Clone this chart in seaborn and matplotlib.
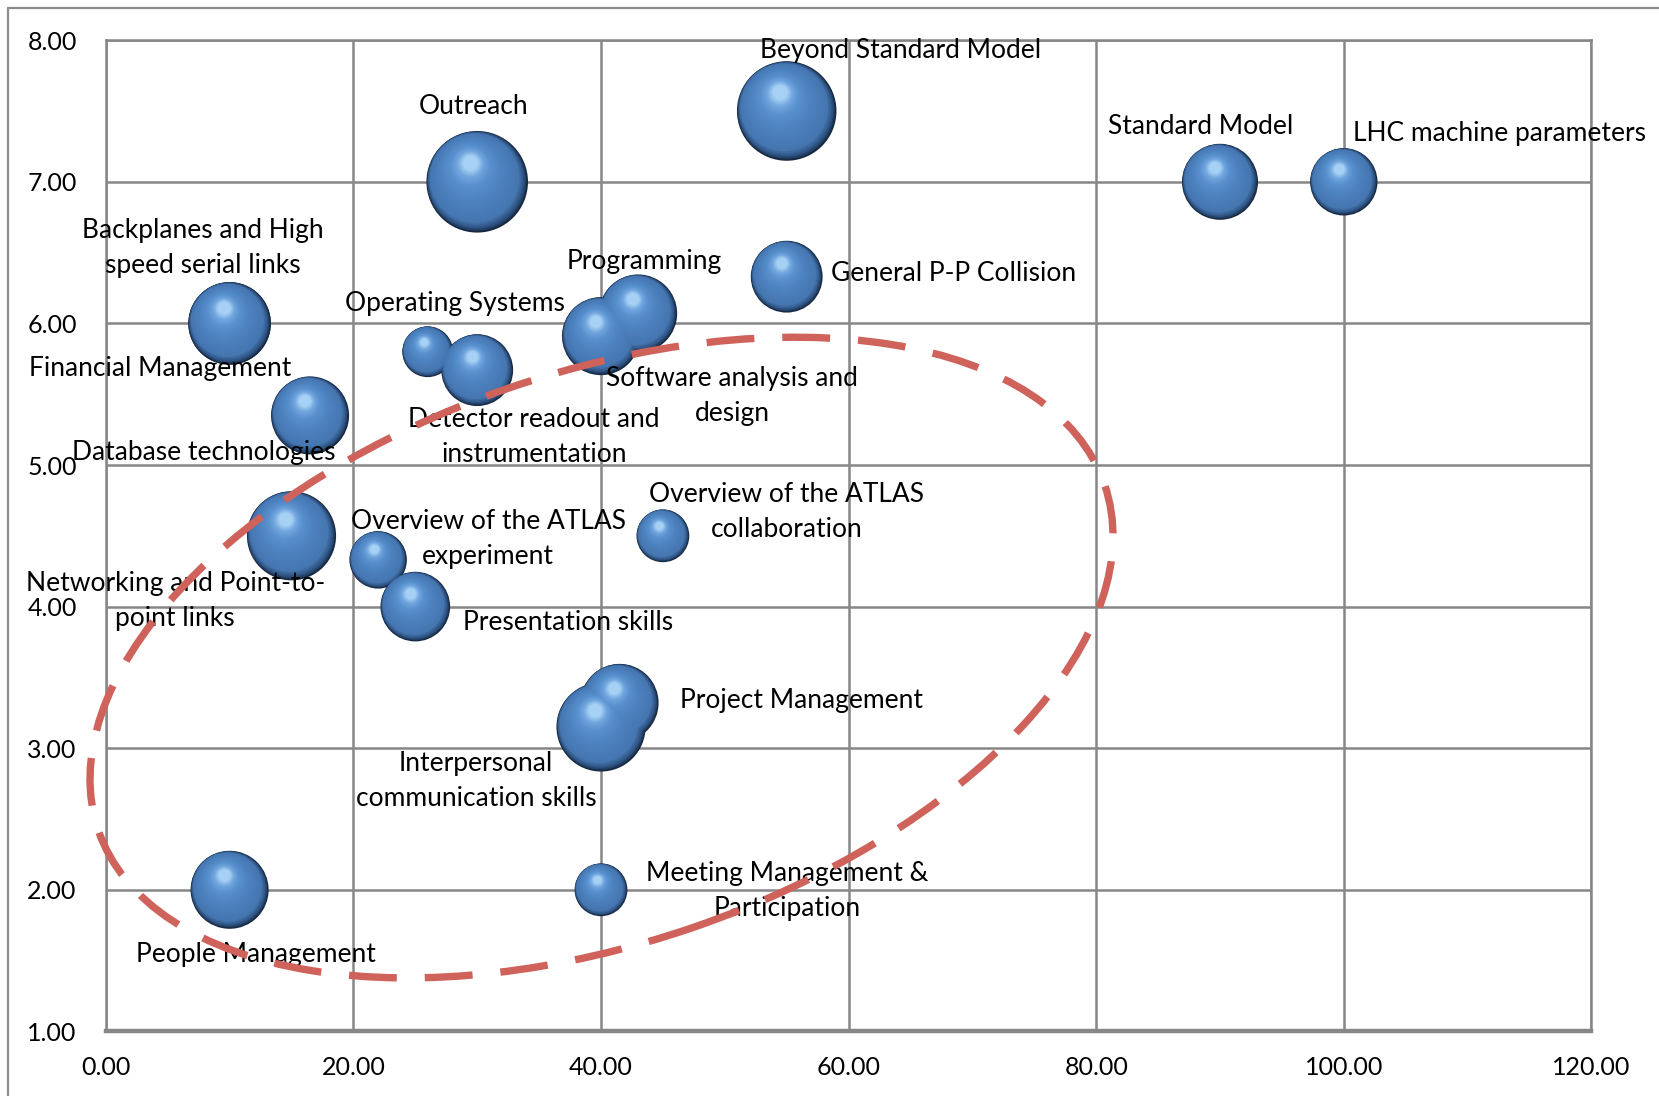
import numpy as np
import pandas as pd
import matplotlib
matplotlib.use("Agg")
import matplotlib.pyplot as plt
import seaborn as sns
from matplotlib.path import Path
from matplotlib.markers import MarkerStyle
from matplotlib.patches import Ellipse
from matplotlib.transforms import IdentityTransform
from matplotlib.lines import Line2D
from matplotlib.colors import to_rgb

# ---------------- data ----------------
topics = ["Beyond Standard Model", "Outreach", "Standard Model", "LHC machine parameters",
          "General P-P Collision", "Programming", "Software analysis and design",
          "Backplanes and High speed serial links", "Financial Management", "Operating Systems",
          "Detector readout and instrumentation", "Database technologies",
          "Networking and Point-to-point links", "Overview of the ATLAS experiment",
          "Presentation skills", "Overview of the ATLAS collaboration", "Project Management",
          "Interpersonal communication skills", "Meeting Management & Participation",
          "People Management"]
x_vals = [55, 30, 90, 100, 55, 43, 40, 10, 10, 26, 30, 16.5, 15, 22, 25, 45, 41.5, 40, 40, 10]
y_vals = [7.5, 7.0, 7.0, 7.0, 6.33, 6.07, 5.91, 6.0, 6.0, 5.8, 5.67, 5.35, 4.5, 4.33,
          4.0, 4.5, 3.32, 3.15, 2.0, 2.0]
bubble_size = [9.6, 10.0, 5.6, 4.4, 5.0, 5.9, 5.9, 6.6, 6.6, 2.5, 5.0, 5.9, 7.7, 3.2,
               4.7, 2.7, 5.9, 7.7, 2.7, 5.9]

x_ticks = [0, 20, 40, 60, 80, 100, 120]
y_ticks = [1, 2, 3, 4, 5, 6, 7, 8]

label_text = ["Beyond Standard Model", "Outreach", "Standard Model", "LHC machine parameters",
              "General P-P Collision", "Programming", "Software analysis and\ndesign",
              "Backplanes and High\nspeed serial links", "Financial Management",
              "Operating Systems", "Detector readout and\ninstrumentation",
              "Database technologies", "Networking and Point-to-\npoint links",
              "Overview of the ATLAS\nexperiment", "Presentation skills",
              "Overview of the ATLAS\ncollaboration", "Project Management",
              "Interpersonal\ncommunication skills", "Meeting Management &\nParticipation",
              "People Management"]
label_x = [64.2, 29.7, 88.4, 112.6, 68.5, 43.5, 50.6, 7.8, 4.4, 28.2, 34.6, 7.9, 5.6,
           30.9, 37.3, 55.0, 56.2, 29.9, 55.0, 12.1]
label_y = [7.925, 7.53, 7.39, 7.34, 6.35, 6.44, 5.49, 6.53, 5.68, 6.14, 5.20, 5.09, 4.04,
           4.48, 3.89, 4.67, 3.34, 2.77, 1.99, 1.54]

df = pd.DataFrame({"topic": topics, "x": x_vals, "y": y_vals, "size": bubble_size})

# ---------------- figure ----------------
sns.set_theme(style="white")
plt.rcParams["font.family"] = ["Lato", "DejaVu Sans"]

W, H, DPI = 1659, 1096, 100
fig = plt.figure(figsize=(W / DPI, H / DPI), dpi=DPI)
ax = fig.add_axes([105.8 / W, 1 - 1031.4 / H, (1591.4 - 105.8) / W, (1031.4 - 40.2) / H])

# bubble sizes: area proportional to value
K = 535.0
smax = max(bubble_size)
sns.scatterplot(data=df, x="x", y="y", size="size", sizes=(0, K * smax), size_norm=(0, smax),
                color="#172A44", edgecolor="none", linewidth=0, legend=False, ax=ax, zorder=3)

ax.set_xlim(0, 120)
ax.set_ylim(1, 8)
ax.set_xticks(x_ticks)
ax.set_yticks(y_ticks)
ax.set_xticklabels([f"{v:.2f}" for v in x_ticks])
ax.set_yticklabels([f"{v:.2f}" for v in y_ticks])
ax.set_xlabel("")
ax.set_ylabel("")
grid_col = "#878787"
ax.grid(True, color=grid_col, lw=1.8, zorder=0)
ax.set_axisbelow(True)
for side in ["left", "right", "top"]:
    ax.spines[side].set_color(grid_col)
    ax.spines[side].set_linewidth(1.8)
ax.spines["bottom"].set_color(grid_col)
ax.spines["bottom"].set_linewidth(3.2)
ax.tick_params(axis="both", direction="out", length=5, width=1.8, color=grid_col,
               labelsize=18, labelcolor="black", pad=13)
ax.tick_params(axis="y", pad=16)

# sphere shading layers (off-centre circles, lighter towards the highlight)
base_s = K * np.array(bubble_size)
anchors_t = [0.0, 0.05, 0.14, 0.45, 0.7, 0.86, 1.0]
anchors_c = [to_rgb(c) for c in ["#172A44", "#2D5180", "#4576B0", "#4D82C0",
                                 "#5890CE", "#71A5DE", "#A6D1F5"]]
N = 36
dir_start = np.array([-0.6, 0.8])
dir_end = np.array([-0.33, 0.94])
for i in range(1, N + 1):
    t = i / N
    a = 1 - 0.85 * t
    f = 0.8 - 0.34 * t
    d = dir_start + (dir_end - dir_start) * t
    d = d / np.hypot(*d)
    off = f * (1 - a) * d
    col = tuple(np.interp(t, anchors_t, [c[j] for c in anchors_c]) for j in range(3))
    p = Path.circle(center=(off[0], off[1]), radius=a)
    m = max(a + abs(off[0]), a + abs(off[1]))
    ax.scatter(df["x"], df["y"], s=base_s * m ** 2, marker=MarkerStyle(p), color=col,
               linewidths=0, zorder=3 + i * 0.01)

# labels
for txt, lx, ly in zip(label_text, label_x, label_y):
    ax.text(lx, ly, txt, ha="center", va="center", fontsize=19, color="black",
            linespacing=1.5, zorder=6, clip_on=False)

# dashed ellipse (drawn in pixel space so its tilt matches the screen)
fig.canvas.draw()
cx, cy = ax.transData.transform((40.04, 3.64))
ell = Ellipse((cx, cy), width=2 * 532, height=2 * 285, angle=19, transform=IdentityTransform(),
              fill=False, ec="#CF625B", lw=5.3, ls=(0, (6.5, 3.8)), zorder=10, clip_on=False)
fig.add_artist(ell)

# outer chart border (top and left visible)
bx, by = 8 / W, 1 - 8 / H
fig.add_artist(Line2D([bx, bx], [by, -0.01], transform=fig.transFigure, color="#8C8C8C", lw=1.6))
fig.add_artist(Line2D([bx, 1.01], [by, by], transform=fig.transFigure, color="#8C8C8C", lw=1.6))

fig.savefig("out.png", dpi=DPI, facecolor="white")
